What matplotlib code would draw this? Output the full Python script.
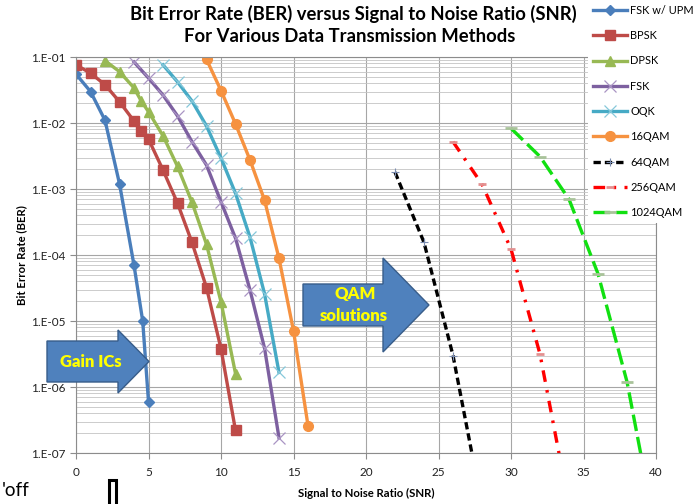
import numpy as np
import matplotlib.pyplot as plt
from matplotlib.patches import Polygon, Rectangle
from matplotlib.ticker import FixedLocator, FuncFormatter, NullFormatter

plt.rcParams['font.family'] = ['Lato', 'DejaVu Sans']

# ---- data ----
snr_fsk_upm = [0, 1, 2, 3, 4, 4.6, 5]
ber_fsk_upm = [5.5e-2, 3.0e-2, 1.1e-2, 1.2e-3, 7.0e-5, 1.0e-5, 6.0e-7]

snr_bpsk = [0, 1, 2, 3, 4, 4.5, 5, 6, 7, 8, 9, 10, 11]
ber_bpsk = [7.6e-2, 5.7e-2, 3.8e-2, 2.1e-2, 1.07e-2, 7.6e-3, 5.7e-3,
            1.94e-3, 6.1e-4, 1.55e-4, 3.2e-5, 3.8e-6, 2.2e-7]

snr_dpsk = [2, 3, 4, 4.5, 5, 6, 7, 8, 9, 10, 11]
ber_dpsk = [8.8e-2, 6.0e-2, 3.4e-2, 2.15e-2, 1.48e-2, 6.4e-3, 2.2e-3,
            6.3e-4, 1.45e-4, 1.95e-5, 1.6e-6]

snr_fsk = [4, 5, 6, 7, 8, 9, 10, 11, 12, 13, 14]
ber_fsk = [8.4e-2, 4.8e-2, 2.65e-2, 1.28e-2, 5.2e-3, 2.3e-3, 6.4e-4,
           1.8e-4, 2.95e-5, 3.9e-6, 1.7e-7]

snr_oqk = [6, 7, 8, 9, 10, 11, 12, 13, 14]
ber_oqk = [7.6e-2, 4.2e-2, 2.15e-2, 9.0e-3, 2.95e-3, 8.6e-4, 1.86e-4,
           2.6e-5, 1.66e-6]

snr_16qam = [9, 10, 11, 12, 13, 14, 15, 16]
ber_16qam = [9.2e-2, 3.1e-2, 9.7e-3, 2.75e-3, 6.8e-4, 8.9e-5, 7.1e-6, 2.6e-7]

snr_64qam = [22, 24, 26, 28]
ber_64qam = [1.8e-3, 1.55e-4, 3.0e-6, 1.6e-8]

snr_256qam = [26, 28, 30, 32, 34]
ber_256qam = [5.2e-3, 1.18e-3, 1.23e-4, 3.15e-6, 1.6e-8]

snr_1024qam = [30, 32, 34, 36, 38, 40]
ber_1024qam = [8.3e-3, 3.1e-3, 7.0e-4, 5.2e-5, 1.2e-6, 6e-9]

x_ticks = [0, 5, 10, 15, 20, 25, 30, 35, 40]
y_ticks = [1e-7, 1e-6, 1e-5, 1e-4, 1e-3, 1e-2, 1e-1]

W, H = 695, 504


def px(x, y):
    # pixel position (from top-left) -> figure fraction
    return (x / W, 1 - y / H)


fig = plt.figure(figsize=(W / 100, H / 100), dpi=100)
ax = fig.add_axes([76 / W, 51 / H, 580 / W, 396 / H])

ax.plot(snr_fsk_upm, ber_fsk_upm, color='#4a7ebb', lw=2.4, marker='D', ms=5,
        label='FSK w/ UPM')
ax.plot(snr_bpsk, ber_bpsk, color='#be4b48', lw=2.4, marker='s', ms=7,
        label='BPSK')
ax.plot(snr_dpsk, ber_dpsk, color='#98b954', lw=2.4, marker='^', ms=7,
        label='DPSK')
ax.plot(snr_fsk, ber_fsk, color='#7d60a0', lw=2.4, marker='x', ms=8, mew=0.9,
        mec='#a994c4', label='FSK')
ax.plot(snr_oqk, ber_oqk, color='#46aac5', lw=2.4, marker='x', ms=8, mew=0.9,
        mec='#86c8da', label='OQK')
ax.plot(snr_16qam, ber_16qam, color='#f69240', lw=2.4, marker='o', ms=7,
        label='16QAM')
ax.plot(snr_64qam, ber_64qam, color='black', lw=2.4, ls=(0, (2.2, 1.2)),
        marker='+', ms=6, mew=0.8, mec='#7a8cb0', label='64QAM')
ax.plot(snr_256qam, ber_256qam, color='#ff0000', lw=2.4,
        ls=(0, (3.5, 2.5, 0.8, 2.5)), marker='_', ms=6, mew=2, mec='#e39090',
        label='256QAM')
ax.plot(snr_1024qam, ber_1024qam, color='#11e011', lw=2.4, ls=(0, (5, 1.8)),
        marker='_', ms=8, mew=2, mec='#a9c39a', label='1024QAM')

ax.set_yscale('log')
ax.set_xlim(0, 40)
ax.set_ylim(1e-7, 1e-1)
ax.xaxis.set_major_locator(FixedLocator(x_ticks))
ax.yaxis.set_major_locator(FixedLocator(y_ticks))
ax.yaxis.set_minor_locator(FixedLocator(
    [m * d for d in y_ticks[:-1] for m in range(2, 10)]))
ax.yaxis.set_minor_formatter(NullFormatter())
ax.yaxis.set_major_formatter(FuncFormatter(
    lambda v, p: '1.E-%02d' % round(-np.log10(v))))

ax.grid(True, which='major', color='#a6a6a6', lw=0.8)
ax.grid(True, which='minor', axis='y', color='#c4c4c4', lw=0.6)
ax.set_axisbelow(True)
for s in ax.spines.values():
    s.set_color('#8c8c8c')
    s.set_linewidth(0.8)
ax.tick_params(which='major', labelsize=8.5, colors='#8c8c8c',
               labelcolor='#222222', length=4, width=0.8)
ax.tick_params(which='minor', length=0)
ax.tick_params(axis='x', pad=6)

ax.set_xlabel('Signal to Noise Ratio (SNR)', fontsize=8.2, fontweight='bold',
              labelpad=7)
ax.set_ylabel('Bit Error Rate (BER)', fontsize=8.2, fontweight='bold',
              labelpad=3)

fig.text(353 / W, 1 - 14 / H,
         'Bit Error Rate (BER) versus Signal to Noise Ratio (SNR)',
         ha='center', va='center', fontsize=13.3, fontweight='bold')
fig.text(350 / W, 1 - 37 / H, 'For Various Data Transmission Methods',
         ha='center', va='center', fontsize=13.3, fontweight='bold')

leg = fig.legend(loc='upper left', bbox_to_anchor=px(588, 0), fontsize=7.9,
                 frameon=True, facecolor='white', edgecolor='none',
                 framealpha=1, fancybox=False, numpoints=1, handlelength=3.1,
                 handletextpad=0.3, labelspacing=1.3, borderpad=0.45,
                 borderaxespad=0)

# block arrows
arrow_fc, arrow_ec = '#4f81bd', '#385d8a'
gain_pts = [(47, 341), (118, 341), (118, 330), (149, 361.5), (118, 393),
            (118, 382), (47, 382)]
qam_pts = [(303, 284), (383, 284), (383, 258), (429, 305), (383, 352),
           (383, 326), (303, 326)]
for pts in (gain_pts, qam_pts):
    fig.add_artist(Polygon([px(*p) for p in pts], closed=True, fc=arrow_fc,
                           ec=arrow_ec, lw=1, transform=fig.transFigure,
                           zorder=3))

fig.text(*px(91, 362), 'Gain ICs', ha='center', va='center', fontsize=12,
         fontweight='heavy', color='#ffff00', zorder=4)
fig.text(*px(355, 294), 'QAM', ha='center', va='center', fontsize=12,
         fontweight='heavy', color='#ffff00', zorder=4)
fig.text(*px(354, 316), 'solutions', ha='center', va='center', fontsize=12,
         fontweight='heavy', color='#ffff00', zorder=4)

# stray bits at bottom left of the original screenshot
fig.text(*px(2, 491), "'off", ha='left', va='center', fontsize=13.5)
fig.add_artist(Rectangle(px(109, 506), 7 / W, 26 / H, fc='white', ec='black',
                         lw=2.2, transform=fig.transFigure))

fig.savefig('out.png', dpi=100)
